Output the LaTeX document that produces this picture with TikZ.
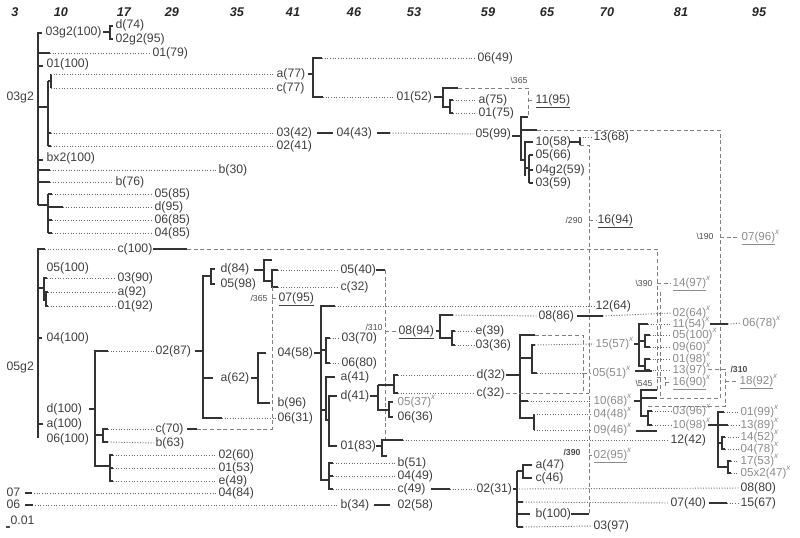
\documentclass[tikz,border=0pt]{standalone}
\usepackage{fontspec}
\setmainfont{Liberation Sans}
\newcommand{\supx}{\textsuperscript{\itshape x}}
\newcommand{\bksl}{\textbackslash}
\begin{document}
\begin{tikzpicture}[x=0.75pt, y=-0.75pt,
	br/.style={line width=1.1pt, draw=black!80},
	dt/.style={line width=0.7pt, draw=black!60, dash pattern=on 0.7pt off 1.3pt},
	ds/.style={line width=0.7pt, draw=black!50, dash pattern=on 3pt off 2pt},
	lb/.style={anchor=west, inner xsep=1pt, inner ysep=0pt, text=black!75, text height=6.2pt, text depth=1.6pt, font=\fontsize{9.2}{10}\selectfont},
	lx/.style={lb, text=black!45, font=\fontsize{8.7}{9}\selectfont},
	tag/.style={inner sep=0pt, text=black!70, font=\fontsize{6.5}{7}\selectfont},
	hd/.style={inner sep=0pt, text=black!85, font=\fontsize{9.5}{10}\selectfont\bfseries\itshape}]

	\useasboundingbox (0,0) rectangle (800,537);

	% column heads
	\foreach \x/\t in {15/3, 61/10, 124/17, 172/29, 237/35, 293/41, 354/46, 414/53, 488/59, 547/65, 607/70, 681/81, 759/95}
		\node[hd] (h\t) at (\x,12) {\t};

	% ---- labels, 03g2 ----
	\node[lb] (g3) at (5,97) {03g2};
	\node[lb] (g3c) at (44,32) {03g2(100)};
	\node[lb] (d74) at (114,25) {d(74)};
	\node[lb] (g2c) at (114,39) {02g2(95)};
	\node[lb] (a79) at (151,53) {01(79)};
	\node[lb] (a100) at (45,64) {01(100)};
	\node[lb] (a77) at (275,74) {a(77)};
	\node[lb] (c77) at (275,88) {c(77)};
	\node[lb] (c42) at (275,133) {03(42)};
	\node[lb] (b41) at (275,146) {02(41)};
	\node[lb] (bx2) at (45,158) {bx2(100)};
	\node[lb] (b30) at (217,170) {b(30)};
	\node[lb] (b76) at (114,182) {b(76)};
	\node[lb] (e85) at (153,194) {05(85)};
	\node[lb] (d95) at (153,207) {d(95)};
	\node[lb] (f85) at (153,220) {06(85)};
	\node[lb] (d85) at (153,233) {04(85)};
	\node[lb] (f49) at (476,58) {06(49)};
	\node[lb] (a52) at (395,97) {01(52)};
	\node[lb] (a75) at (477,100) {a(75)};
	\node[lb] (a75b) at (477,113) {01(75)};
	\node[tag] (r365) at (519,80) {\bksl 365};
	\node[lb] (k95) at (534,100) {\underline{11(95)}};
	\node[lb] (d43) at (335,133) {04(43)};
	\node[lb] (e99) at (474,134) {05(99)};
	\node[lb] (j58) at (534,142) {10(58)};
	\node[lb] (e66) at (534,155) {05(66)};
	\node[lb] (d59) at (534,170) {04g2(59)};
	\node[lb] (c59) at (534,183) {03(59)};
	\node[lb] (m68) at (592,137) {13(68)};
	\node[tag] (r290) at (574,220) {/290};
	\node[lb] (p94) at (596,220) {\underline{16(94)}};
	\node[tag] (r190) at (705,236) {\bksl 190};
	\node[lx] (g96) at (740,237) {\underline{07(96)}\supx};
	\node[tag] (r390) at (644,283) {\bksl 390};
	\node[lx] (n97) at (671,283) {\underline{14(97)}\supx};

	% ---- labels, 05g2 ----
	\node[lb] (g5) at (5,367) {05g2};
	\node[lb] (c100) at (116,249) {c(100)};
	\node[lb] (e100) at (45,268) {05(100)};
	\node[lb] (c90) at (116,278) {03(90)};
	\node[lb] (a92) at (116,292) {a(92)};
	\node[lb] (a92b) at (116,306) {01(92)};
	\node[lb] (d100) at (45,338) {04(100)};
	\node[lb] (dd100) at (45,409) {d(100)};
	\node[lb] (aa100) at (45,424) {a(100)};
	\node[lb] (f100) at (45,439) {06(100)};
	\node[lb] (b87) at (154,351) {02(87)};
	\node[lb] (f31) at (276,418) {06(31)};
	\node[lb] (d84) at (219,269) {d(84)};
	\node[lb] (e98) at (219,284) {05(98)};
	\node[lb] (e40) at (339,270) {05(40)};
	\node[lb] (c32a) at (339,287) {c(32)};
	\node[tag] (r365b) at (259,298) {/365};
	\node[lb] (g95) at (277,298) {\underline{07(95)}};
	\node[lb] (a62) at (219,378) {a(62)};
	\node[lb] (b96) at (276,403) {b(96)};
	\node[lb] (d58) at (276,353) {04(58)};
	\node[lb] (l64) at (594,306) {12(64)};
	\node[lb] (c70a) at (340,338) {03(70)};
	\node[lb] (f80) at (340,363) {06(80)};
	\node[lb] (a41) at (339,377) {a(41)};
	\node[lb] (d41) at (339,396) {d(41)};
	\node[lb] (a83) at (339,446) {01(83)};
	\node[lb] (d32) at (475,375) {d(32)};
	\node[lb] (c32) at (475,393) {c(32)};
	\node[lx] (e37) at (396,402) {05(37)\supx};
	\node[lb] (f36) at (396,417) {06(36)};
	\node[lb] (l42) at (669,440) {12(42)};
	\node[lb] (b51) at (396,463) {b(51)};
	\node[lb] (d49) at (396,476) {04(49)};
	\node[lb] (c49) at (396,489) {c(49)};
	\node[lb] (b31) at (475,489) {02(31)};
	\node[lb] (a47) at (534,465) {a(47)};
	\node[lb] (c46) at (534,478) {c(46)};
	\node[lb] (h80) at (739,488) {08(80)};
	\node[lb] (g40) at (669,503) {07(40)};
	\node[lb] (o67) at (739,503) {15(67)};
	\node[lb] (b100) at (534,514) {b(100)};
	\node[lb] (c97) at (592,526) {03(97)};
	\node[tag, font=\fontsize{6.5}{7}\selectfont\bfseries] (r390b) at (572,452) {/390};
	\node[lx] (b95) at (592,455) {\underline{02(95)}\supx};
	\node[tag] (r310) at (374,327) {/310};
	\node[lb] (h94) at (397,331) {\underline{08(94)}};
	\node[lb] (h86) at (537,316) {08(86)};
	\node[lb] (e39) at (474,331) {e(39)};
	\node[lb] (c36) at (474,345) {03(36)};
	\node[lx] (b64) at (671,313) {02(64)\supx};
	\node[lx] (o57) at (594,344) {15(57)\supx};
	\node[lx] (e51) at (591,373) {05(51)\supx};
	\node[lx] (j68) at (592,401) {10(68)\supx};
	\node[lx] (d48) at (592,414) {04(48)\supx};
	\node[lx] (i46) at (592,430) {09(46)\supx};
	\node[lx] (c96) at (671,411) {03(96)\supx};
	\node[lx] (j98) at (671,425) {10(98)\supx};
	\node[lx] (k54) at (671,324) {11(54)\supx};
	\node[lx] (e100x) at (671,335) {05(100)\supx};
	\node[lx] (i60) at (671,347) {09(60)\supx};
	\node[lx] (a98) at (671,359) {01(98)\supx};
	\node[lx] (m97) at (671,370) {13(97)\supx};
	\node[tag] (r545) at (644,383) {\bksl 545};
	\node[lx] (p90) at (671,382) {\underline{16(90)}\supx};
	\node[tag, font=\fontsize{6.5}{7}\selectfont\bfseries] (r310b) at (739,369) {/310};
	\node[lx] (r92) at (738,381) {\underline{18(92)}\supx};
	\node[lx] (f78) at (741,323) {06(78)\supx};
	\node[lx] (a99) at (739,412) {01(99)\supx};
	\node[lx] (m89) at (739,425) {13(89)\supx};
	\node[lx] (n52) at (739,437) {14(52)\supx};
	\node[lx] (d78) at (739,449) {04(78)\supx};
	\node[lx] (q53) at (739,461) {17(53)\supx};
	\node[lx] (e47) at (739,473) {05x2(47)\supx};
	\node[lb] (c70) at (154,429) {c(70)};
	\node[lb] (b63) at (154,443) {b(63)};
	\node[lb] (b60) at (217,455) {02(60)};
	\node[lb] (a53) at (217,468) {01(53)};
	\node[lb] (e49) at (217,481) {e(49)};
	\node[lb] (s07) at (5,493) {07};
	\node[lb] (d84b) at (217,493) {04(84)};
	\node[lb] (s06) at (5,505) {06};
	\node[lb] (b34) at (339,505) {b(34)};
	\node[lb] (b58) at (396,505) {02(58)};
	\node[lb] (sc) at (9,521) {0.01};

	% ---- branches, 03g2 ----
	\draw[br] (42,33) -- (38,33) -- (38,205);
	\draw[br] (103,32) -- (110,32);
	\draw[br] (113,26) -- (110,26) -- (110,39) -- (113,39);
	\draw[br] (38,53) -- (50,53);
	\draw[dt] (50,53) -- (a79.west);
	\draw[br] (38,66) -- (43,66);
	\draw[br] (38,107) -- (48,107);
	\draw[br] (48,81) -- (48,146);
	\draw[br] (48,81) -- (51,81);
	\draw[br] (51,74) -- (51,88);
	\draw[dt] (51,74) -- (a77.west);
	\draw[dt] (51,88) -- (c77.west);
	\draw[br] (48,133) -- (51,133);
	\draw[br] (48,146) -- (51,146);
	\draw[dt] (51,133) -- (c42.west);
	\draw[dt] (51,146) -- (b41.west);
	\draw[br] (38,160) -- (43,160);
	\draw[br] (38,170) -- (50,170);
	\draw[dt] (50,170) -- (b30.west);
	\draw[br] (38,182) -- (50,182);
	\draw[dt] (50,182) -- (b76.west);
	\draw[br] (38,205) -- (48,205);
	\draw[br] (48,194) -- (48,233);
	\draw[br] (48,194) -- (52,194);
	\draw[br] (48,207) -- (63,207);
	\draw[br] (48,220) -- (52,220);
	\draw[br] (48,233) -- (52,233);
	\draw[dt] (52,194) -- (e85.west);
	\draw[dt] (63,207) -- (d95.west);
	\draw[dt] (52,220) -- (f85.west);
	\draw[dt] (52,233) -- (d85.west);

	\draw[br] (308,74) -- (313,74);
	\draw[br] (322,58) -- (313,58) -- (313,97) -- (323,97);
	\draw[dt] (322,58) -- (f49.west);
	\draw[dt] (323,97) -- (a52.west);
	\draw[br] (434,97) -- (443,97);
	\draw[br] (458,88) -- (443,88) -- (443,107) -- (450,107);
	\draw[br] (453,100) -- (450,100) -- (450,113) -- (453,113);
	\draw[dt] (453,100) -- (a75.west);
	\draw[dt] (453,113) -- (a75b.west);
	\draw[ds] (458,88) -- (528,88) -- (528,117);
	\draw[ds] (528,100) -- (k95.west);
	\draw[br] (317,133) -- (333,133);
	\draw[br] (377,133) -- (390,133);
	\draw[dt] (390,133) -- (e99.west);
	\draw[br] (512,136) -- (521,136);
	\draw[br] (528,117) -- (521,117) -- (521,160) -- (525,160);
	\draw[br] (521,130) -- (537,130);
	\draw[ds] (537,130) -- (720,130) -- (720,398) -- (660,398) -- (660,290);
	\draw[br] (533,142) -- (525,142) -- (525,176);
	\draw[br] (525,168) -- (529,168);
	\draw[br] (529,155) -- (529,183);
	\draw[br] (529,155) -- (533,155);
	\draw[br] (529,170) -- (533,170);
	\draw[br] (529,183) -- (533,183);
	\draw[br] (570,142) -- (580,142);
	\draw[br] (580,137) -- (580,145);
	\draw[dt] (580,137) -- (m68.west);
	\draw[ds] (580,145) -- (589,145) -- (589,514);
	\draw[ds] (589,220) -- (p94.west);
	\draw[ds] (720,237) -- (g96.west);
	\draw[ds] (657,283) -- (n97.west);

	% ---- branches, 05g2 ----
	\draw[br] (45,249) -- (38,249) -- (38,438);
	\draw[dt] (45,249) -- (c100.west);
	\draw[br] (153,249) -- (187,249);
	\draw[ds] (187,249) -- (657,249) -- (657,390);
	\draw[br] (38,288) -- (44,288);
	\draw[br] (47,278) -- (44,278) -- (44,300) -- (46,300);
	\draw[br] (48,292) -- (46,292) -- (46,306) -- (48,306);
	\draw[dt] (47,278) -- (c90.west);
	\draw[dt] (48,292) -- (a92.west);
	\draw[dt] (48,306) -- (a92b.west);
	\draw[br] (38,338) -- (42,338);
	\draw[br] (89,409) -- (95,409);
	\draw[br] (38,424) -- (43,424);

	\draw[br] (108,351) -- (95,351) -- (95,466) -- (110,466);
	\draw[dt] (108,351) -- (b87.west);
	\draw[br] (195,351) -- (203,351);
	\draw[br] (203,275) -- (203,418) -- (222,418);
	\draw[dt] (222,418) -- (f31.west);
	\draw[br] (203,276) -- (211,276);
	\draw[br] (215,269) -- (211,269) -- (211,284) -- (215,284);
	\draw[br] (254,270) -- (264,270);
	\draw[br] (272,260) -- (264,260) -- (264,281) -- (272,281);
	\draw[br] (278,270) -- (272,270) -- (272,287) -- (278,287);
	\draw[dt] (278,270) -- (e40.west);
	\draw[dt] (278,287) -- (c32a.west);
	\draw[br] (376,270) -- (385,270);
	\draw[ds] (385,270) -- (385,440);
	\draw[ds] (272,287) -- (272,429) -- (197,429);
	\draw[ds] (272,298) -- (g95.west);
	\draw[br] (203,378) -- (213,378);
	\draw[br] (251,378) -- (258,378);
	\draw[br] (266,353) -- (258,353) -- (258,403) -- (270,403);
	\draw[br] (314,353) -- (321,353);

	% 04(58)
	\draw[br] (335,306) -- (321,306) -- (321,480) -- (329,480);
	\draw[dt] (335,306) -- (l64.west);
	\draw[br] (321,350) -- (326,350);
	\draw[br] (330,338) -- (326,338) -- (326,363) -- (330,363);
	\draw[dt] (330,338) -- (c70a.west);
	\draw[dt] (330,363) -- (f80.west);
	\draw[br] (321,410) -- (326,410);
	\draw[br] (335,377) -- (326,377) -- (326,420) -- (329,420);
	\draw[br] (337,396) -- (329,396) -- (329,446) -- (337,446);
	\draw[br] (370,396) -- (378,396);
	\draw[br] (378,385) -- (378,410) -- (389,410);
	\draw[br] (378,385) -- (394,385);
	\draw[br] (398,375) -- (394,375) -- (394,393) -- (398,393);
	\draw[dt] (398,375) -- (d32.west);
	\draw[dt] (398,393) -- (c32.west);
	\draw[br] (393,402) -- (389,402) -- (389,417) -- (393,417);
	\draw[br] (376,446) -- (382,446);
	\draw[br] (403,440) -- (382,440) -- (382,456) -- (387,456);
	\draw[dt] (403,440) -- (l42.west);
	\draw[br] (333,463) -- (329,463) -- (329,489) -- (333,489);
	\draw[br] (329,476) -- (333,476);
	\draw[dt] (333,463) -- (b51.west);
	\draw[dt] (333,476) -- (d49.west);
	\draw[dt] (333,489) -- (c49.west);
	\draw[br] (431,489) -- (450,489);
	\draw[dt] (450,489) -- (b31.west);

	% 02(31)
	\draw[br] (513,489) -- (517,489);
	\draw[br] (517,471) -- (517,527);
	\draw[br] (517,471) -- (523,471);
	\draw[br] (532,465) -- (523,465) -- (523,478) -- (532,478);
	\draw[dt] (519,489) -- (h80.west);
	\draw[br] (517,502) -- (523,502);
	\draw[dt] (523,502) -- (g40.west);
	\draw[br] (709,503) -- (727,503);
	\draw[dt] (727,503) -- (o67.west);
	\draw[br] (517,514) -- (530,514);
	\draw[br] (571,514) -- (589,514);
	\draw[br] (517,527) -- (523,527);
	\draw[dt] (523,527) -- (c97.west);
	\draw[ds] (589,455) -- (b95.west);

	% 08(94)
	\draw[ds] (385,331) -- (h94.west);
	\draw[br] (436,331) -- (440,331);
	\draw[br] (453,315) -- (440,315) -- (440,338) -- (452,338);
	\draw[dt] (453,315) -- (h86.west);
	\draw[br] (455,331) -- (452,331) -- (452,345) -- (455,345);
	\draw[dt] (455,331) -- (e39.west);
	\draw[dt] (455,345) -- (c36.west);
	\draw[br] (577,316) -- (603,316);
	\draw[dt] (603,316) -- (b64.west);

	% d(32)
	\draw[br] (506,375) -- (520,375);
	\draw[br] (535,335) -- (520,335) -- (520,418) -- (534,418);
	\draw[ds] (535,335) -- (583,335) -- (583,393);
	\draw[ds] (506,393) -- (589,393);
	\draw[br] (520,358) -- (532,358);
	\draw[br] (535,345) -- (532,345) -- (532,373) -- (537,373);
	\draw[dt] (535,345) -- (o57.west);
	\draw[dt] (537,373) -- (583,373);
	\draw[ds] (583,373) -- (e51.west);
	\draw[br] (520,401) -- (528,401);
	\draw[dt] (528,401) -- (j68.west);
	\draw[br] (534,414) -- (534,430);
	\draw[dt] (534,414) -- (d48.west);
	\draw[dt] (534,430) -- (i46.west);
	\draw[br] (636,431) -- (657,431);

	% 10(68)x
	\draw[br] (634,401) -- (641,401);
	\draw[br] (657,390) -- (641,390) -- (641,416) -- (648,416);
	\draw[br] (641,398) -- (657,398);
	\draw[br] (652,411) -- (648,411) -- (648,425) -- (652,425);
	\draw[dt] (652,411) -- (c96.west);
	\draw[dt] (652,425) -- (j98.west);

	% 15(57)x
	\draw[br] (634,344) -- (639,344);
	\draw[br] (648,324) -- (639,324) -- (639,366) -- (645,366);
	\draw[dt] (648,324) -- (k54.west);
	\draw[br] (639,341) -- (645,341);
	\draw[br] (650,335) -- (645,335) -- (645,347) -- (650,347);
	\draw[dt] (650,335) -- (e100x.west);
	\draw[dt] (650,347) -- (i60.west);
	\draw[br] (650,359) -- (645,359) -- (645,370) -- (650,370);
	\draw[dt] (650,359) -- (a98.west);
	\draw[dt] (650,370) -- (m97.west);
	\draw[br] (635,371) -- (652,371);
	\draw[ds] (657,377) -- (665,377) -- (665,389);
	\draw[ds] (665,382) -- (p90.west);
	\draw[ds] (708,369) -- (725,369) -- (725,406) -- (648,406);
	\draw[ds] (725,381) -- (r92.west);
	\draw[br] (710,324) -- (728,324);
	\draw[dt] (728,324) -- (f78.west);

	% 01(99)x
	\draw[br] (708,425) -- (728,425);
	\draw[dt] (728,425) -- (m89.west);
	\draw[br] (724,412) -- (718,412) -- (718,467) -- (728,467);
	\draw[dt] (724,412) -- (a99.west);
	\draw[br] (718,443) -- (722,443);
	\draw[br] (725,437) -- (722,437) -- (722,449) -- (725,449);
	\draw[dt] (725,437) -- (n52.west);
	\draw[dt] (725,449) -- (d78.west);
	\draw[br] (731,461) -- (728,461) -- (728,473) -- (731,473);
	\draw[dt] (731,461) -- (q53.west);
	\draw[dt] (731,473) -- (e47.west);

	% 02(60), c(70)
	\draw[br] (95,435) -- (103,435);
	\draw[br] (108,429) -- (103,429) -- (103,442) -- (108,442);
	\draw[dt] (108,429) -- (c70.west);
	\draw[dt] (108,442) -- (b63.west);
	\draw[br] (187,429) -- (197,429);
	\draw[br] (113,455) -- (110,455) -- (110,481) -- (113,481);
	\draw[br] (110,468) -- (113,468);
	\draw[dt] (113,455) -- (b60.west);
	\draw[dt] (113,468) -- (a53.west);
	\draw[dt] (113,481) -- (e49.west);

	% 07, 06
	\draw[br] (25,493) -- (32,493);
	\draw[dt] (34,493) -- (d84b.west);
	\draw[br] (25,505) -- (33,505);
	\draw[dt] (35,505) -- (b34.west);
	\draw[br] (374,505) -- (390,505);
	\draw[line width=0.8pt, draw=black!70] (6,527) -- (10,527);

\end{tikzpicture}
\end{document}
